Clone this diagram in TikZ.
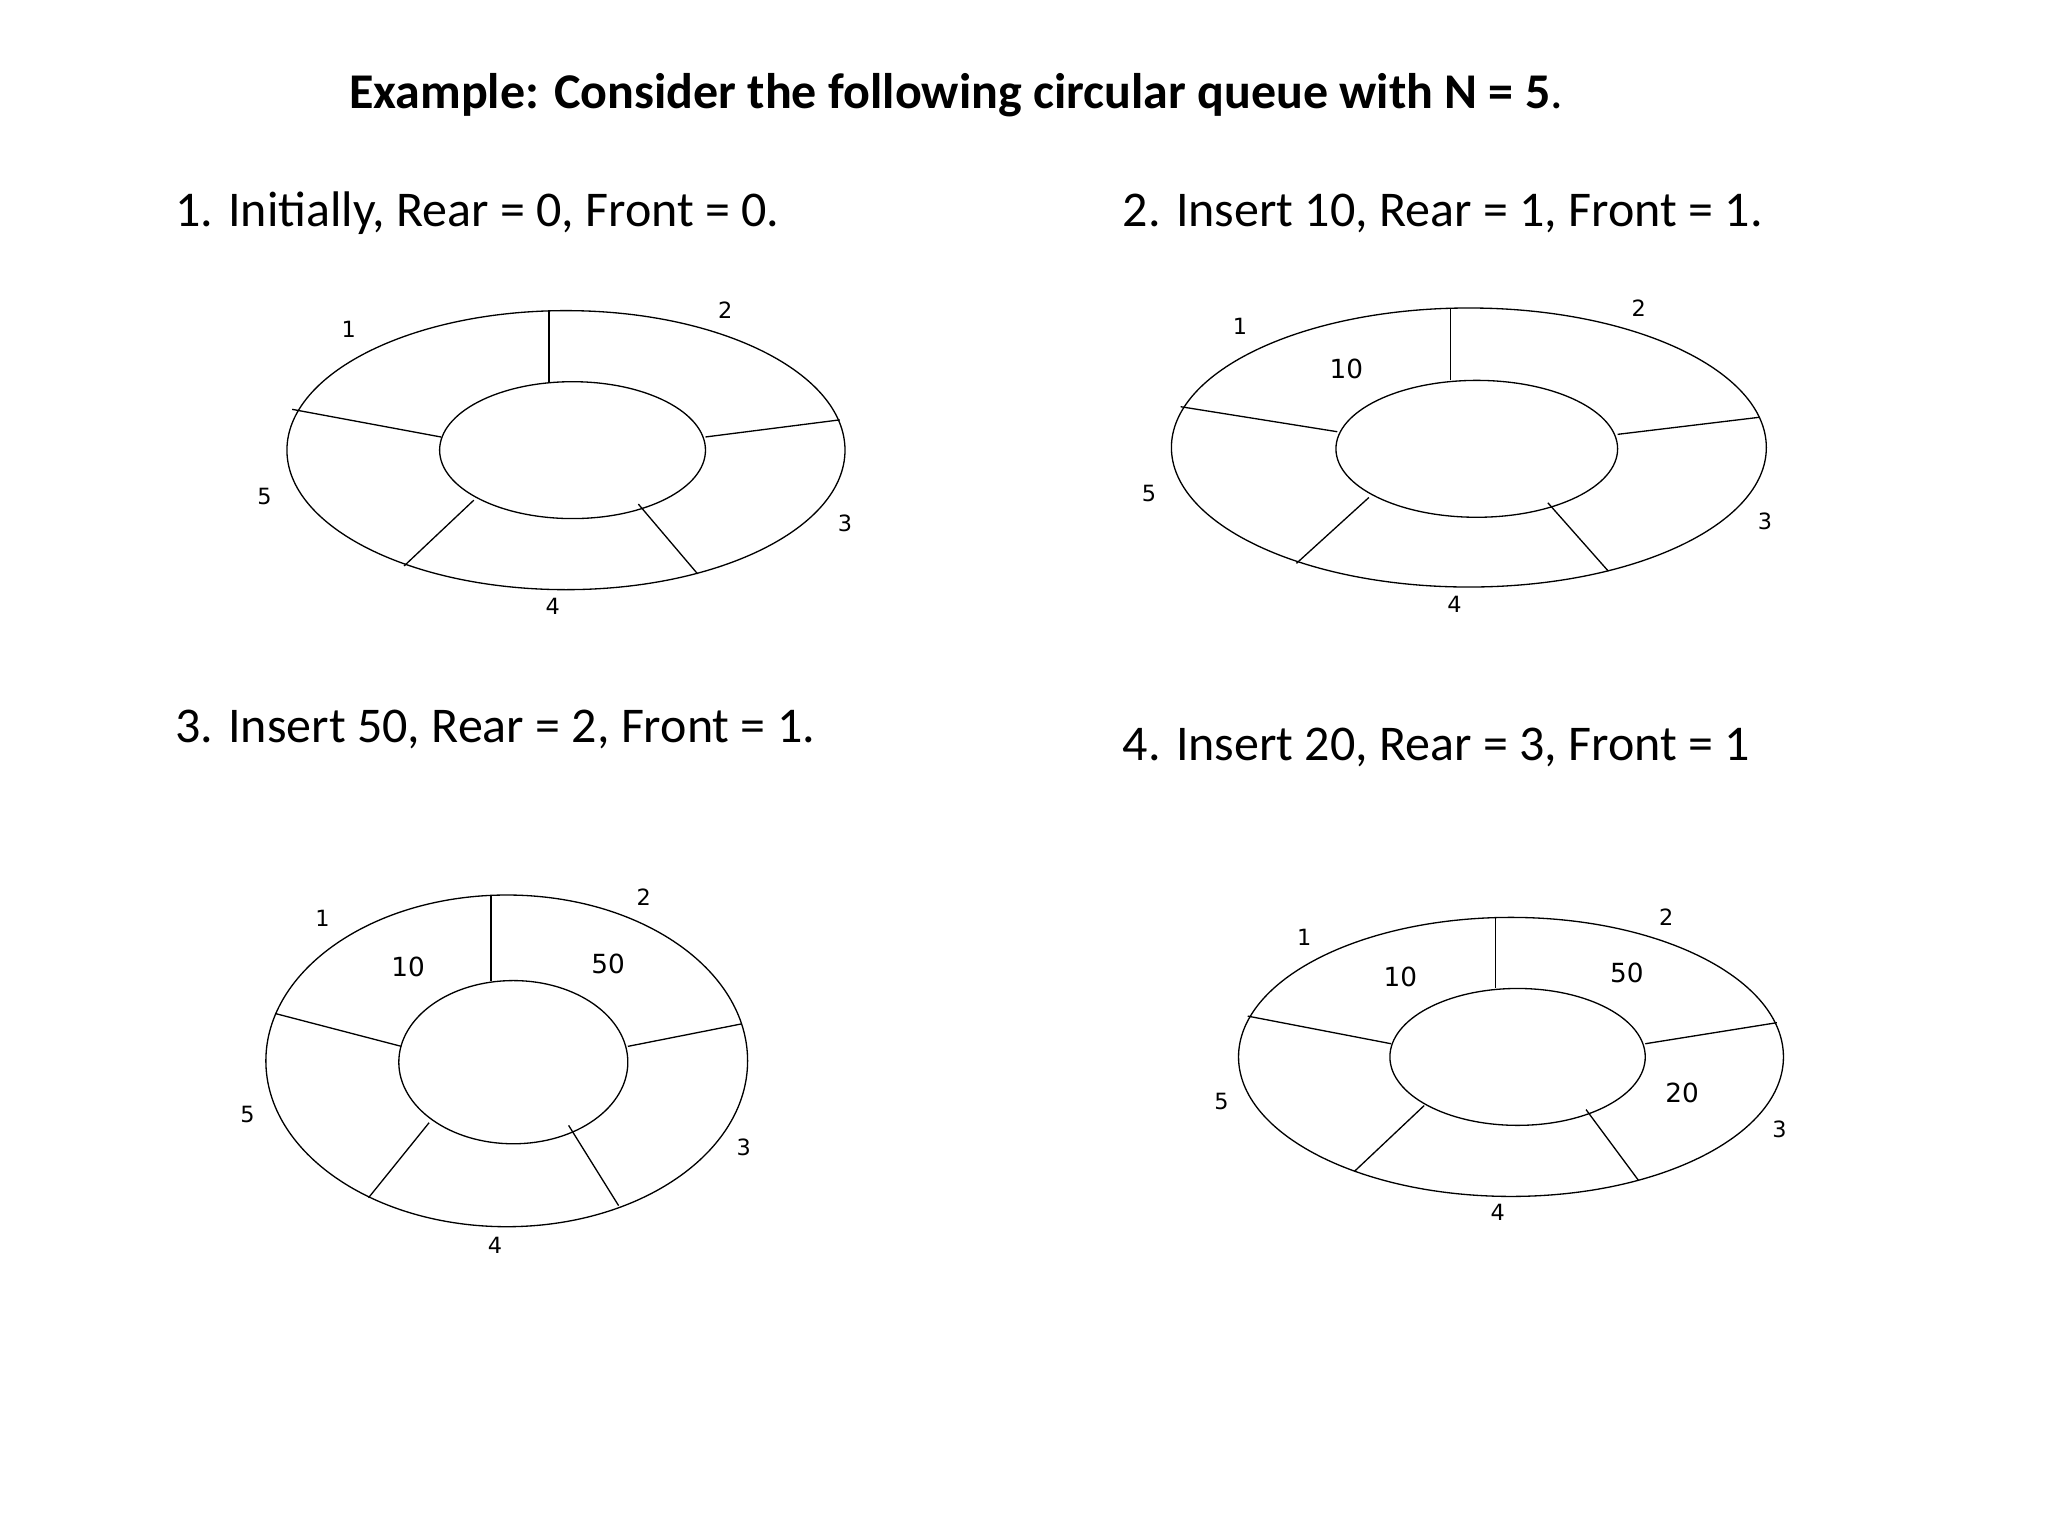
\documentclass[tikz,border=0pt]{standalone}
\usepackage{fontspec}
\setmainfont{Carlito}
\newfontfamily\lblfont{DejaVu Sans}
\begin{document}
\begin{tikzpicture}[x=1pt,y=-1pt,
  ring/.style={draw=black,line width=1pt},
  spoke/.style={draw=black,line width=1pt},
  head/.style={anchor=west,inner sep=0pt,font=\fontsize{38}{44}\selectfont},
  lbl/.style={inner sep=0pt,font=\lblfont\fontsize{17}{19}\selectfont},
  val/.style={inner sep=0pt,font=\lblfont\fontsize{20}{22}\selectfont}]
\useasboundingbox (0,0) rectangle (1556,1167);
\node[head,font=\bfseries\fontsize{38}{44}\selectfont] (title) at (265,72) {Example: Consider the following circular queue with N = 5\mdseries.};
\node[head] (h1) at (133,162) {1. Initially, Rear = 0, Front = 0.};
\node[head] (h2) at (853,162) {2. Insert 10, Rear = 1, Front = 1.};
\node[head] (h3) at (133,554) {3. Insert 50, Rear = 2, Front = 1.};
\node[head] (h4) at (853,568) {4. Insert 20, Rear = 3, Front = 1};
% diagram 1
\draw[ring] (430,342) ellipse [x radius=212,y radius=106];
\draw[ring] (435,342) ellipse [x radius=101,y radius=52];
\coordinate (a1) at (417,236); \coordinate (a2) at (417,290);
\coordinate (b1) at (222,311); \coordinate (b2) at (335,332);
\coordinate (c1) at (536,332); \coordinate (c2) at (638,319);
\coordinate (d1) at (307,430); \coordinate (d2) at (360,380);
\coordinate (e1) at (530,436); \coordinate (e2) at (485,383);
\draw[spoke] (a1)--(a2); \draw[spoke] (b1)--(b2); \draw[spoke] (c1)--(c2);
\draw[spoke] (d1)--(d2); \draw[spoke] (e1)--(e2);
\node[lbl] (l11) at (265,250) {1}; \node[lbl] (l12) at (551,236) {2};
\node[lbl] (l15) at (201,377) {5}; \node[lbl] (l13) at (642,398) {3};
\node[lbl] (l14) at (420,461) {4};
% diagram 2
\draw[ring] (1116,340) ellipse [x radius=226,y radius=106];
\draw[ring] (1122,341) ellipse [x radius=107,y radius=52];
\coordinate (f1) at (1102,234); \coordinate (f2) at (1102,289);
\coordinate (g1) at (897,309); \coordinate (g2) at (1016,328);
\coordinate (h1c) at (1229,330); \coordinate (h2c) at (1337,317);
\coordinate (i1) at (985,428); \coordinate (i2) at (1040,378);
\coordinate (j1) at (1222,434); \coordinate (j2) at (1176,382);
\draw[spoke] (f1)--(f2); \draw[spoke] (g1)--(g2); \draw[spoke] (h1c)--(h2c);
\draw[spoke] (i1)--(i2); \draw[spoke] (j1)--(j2);
\node[lbl] (l21) at (942,248) {1}; \node[lbl] (l22) at (1245,234) {2};
\node[lbl] (l25) at (873,375) {5}; \node[lbl] (l23) at (1341,396) {3};
\node[lbl] (l24) at (1105,459) {4}; \node[val] (v21) at (1023,280) {10};
% diagram 3
\draw[ring] (385,806) ellipse [x radius=183,y radius=126];
\draw[ring] (390,807) ellipse [x radius=87,y radius=62];
\coordinate (k1) at (373,680); \coordinate (k2) at (373,745);
\coordinate (m1) at (209,770); \coordinate (m2) at (305,795);
\coordinate (n1) at (477,795); \coordinate (n2) at (563,778);
\coordinate (o1) at (280,910); \coordinate (o2) at (326,853);
\coordinate (p1) at (470,916); \coordinate (p2) at (432,855);
\draw[spoke] (k1)--(k2); \draw[spoke] (m1)--(m2); \draw[spoke] (n1)--(n2);
\draw[spoke] (o1)--(o2); \draw[spoke] (p1)--(p2);
\node[lbl] (l31) at (245,698) {1}; \node[lbl] (l32) at (489,682) {2};
\node[lbl] (l35) at (188,847) {5}; \node[lbl] (l33) at (565,872) {3};
\node[lbl] (l34) at (376,946) {4};
\node[val] (v31) at (310,735) {10}; \node[val] (v32) at (462,732) {50};
% diagram 4
\draw[ring] (1148,803) ellipse [x radius=207,y radius=106];
\draw[ring] (1153,803) ellipse [x radius=97,y radius=52];
\coordinate (q1) at (1136,697); \coordinate (q2) at (1136,751);
\coordinate (r1) at (948,772); \coordinate (r2) at (1057,793);
\coordinate (s1) at (1250,793); \coordinate (s2) at (1350,777);
\coordinate (t1) at (1029,890); \coordinate (t2) at (1082,840);
\coordinate (u1) at (1245,897); \coordinate (u2) at (1205,843);
\draw[spoke] (q1)--(q2); \draw[spoke] (r1)--(r2); \draw[spoke] (s1)--(s2);
\draw[spoke] (t1)--(t2); \draw[spoke] (u1)--(u2);
\node[lbl] (l41) at (991,712) {1}; \node[lbl] (l42) at (1266,697) {2};
\node[lbl] (l45) at (928,837) {5}; \node[lbl] (l43) at (1352,858) {3};
\node[lbl] (l44) at (1138,921) {4};
\node[val] (v41) at (1064,742) {10}; \node[val] (v42) at (1236,739) {50};
\node[val] (v43) at (1278,830) {20};
\end{tikzpicture}
\end{document}
